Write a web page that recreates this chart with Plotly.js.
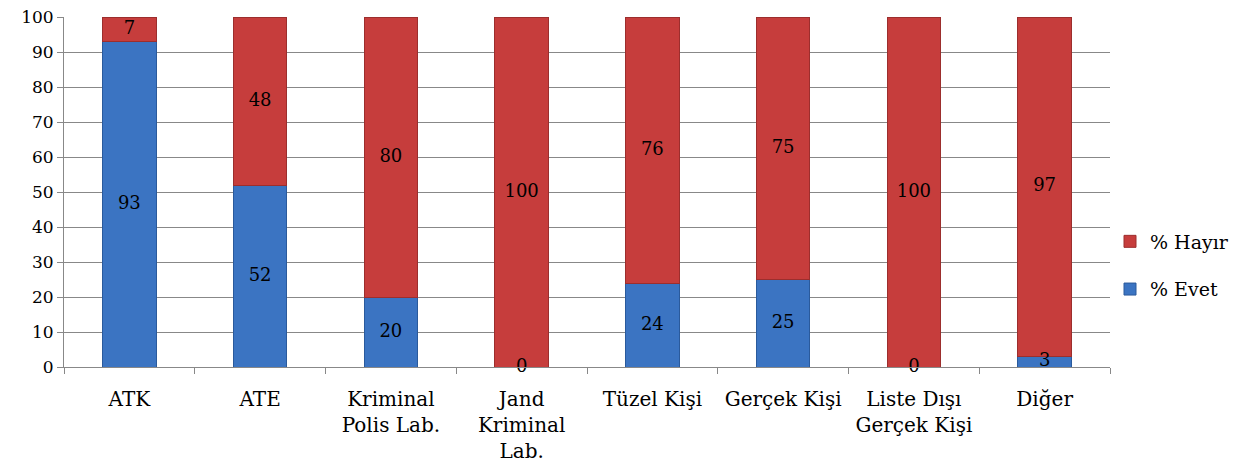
<!DOCTYPE html>
<html><head><meta charset="utf-8">
<script src="https://cdn.plot.ly/plotly-3.0.1.min.js"></script>
<style>body{margin:0;background:#fff}#c{width:1256px;height:466px}</style>
</head><body><div id="c"></div>
<script>
const categories = ["ATK","ATE","Kriminal<br>Polis Lab.","Jand<br>Kriminal<br>Lab.","Tüzel Kişi","Gerçek Kişi","Liste Dışı<br>Gerçek Kişi","Diğer"];
const evet  = [93,52,20,0,24,25,0,3];
const hayir = [7,48,80,100,76,75,100,97];
const seriesNames = ["% Evet","% Hayır"];

const fam = "DejaVu Serif, serif";
const labelFont = {family:fam, size:18, color:"#000"};
const labelX = [], labelY = [], labelT = [];
categories.forEach((c,i)=>{
  labelX.push(c); labelY.push(evet[i]/2); labelT.push(String(evet[i]));
  labelX.push(c); labelY.push(evet[i]+hayir[i]/2); labelT.push(String(hayir[i]));
});

const traces = [
  {type:"bar", name:seriesNames[0], x:categories, y:evet, width:0.41, legendgroup:"e", legendrank:2,
   marker:{color:"#3B74C2", line:{color:"#2A5A9C", width:1}}, hoverinfo:"none"},
  {type:"bar", name:seriesNames[1], x:categories, y:hayir, width:0.41, legendgroup:"h", legendrank:1,
   marker:{color:"#C63D3C", line:{color:"#9C2E2D", width:1}}, hoverinfo:"none"},
  {type:"scatter", mode:"text", x:labelX, y:labelY, text:labelT, textposition:"middle center",
   textfont:labelFont, showlegend:false, hoverinfo:"none", cliponaxis:false}
];

const layout = {
  width:1256, height:466,
  margin:{l:64, r:146, t:17, b:99},
  barmode:"stack",
  paper_bgcolor:"#fff", plot_bgcolor:"#fff",
  font:{family:fam, size:18, color:"#000"},
  showlegend:true,
  legend:{x:1.0, y:0.29, xanchor:"left", yanchor:"middle", traceorder:"grouped",
          font:{family:fam, size:19, color:"#000"}, itemwidth:30, tracegroupgap:20},
  xaxis:{type:"category", showline:true, linecolor:"#888", linewidth:1,
         ticks:"outside", ticklen:6, tickcolor:"#888", tickson:"boundaries",
         showgrid:false, tickfont:{family:fam, size:20, color:"#000"}, zeroline:false,
         ticklabelstandoff:14},
  yaxis:{range:[0,100], dtick:10, showline:true, linecolor:"#888", linewidth:1,
         ticks:"outside", ticklen:6, tickcolor:"#888", gridcolor:"#888", gridwidth:1,
         tickfont:{family:fam, size:17, color:"#000"}, zeroline:false}
};
Plotly.newPlot("c", traces, layout, {displayModeBar:false, staticPlot:true});
</script></body></html>
